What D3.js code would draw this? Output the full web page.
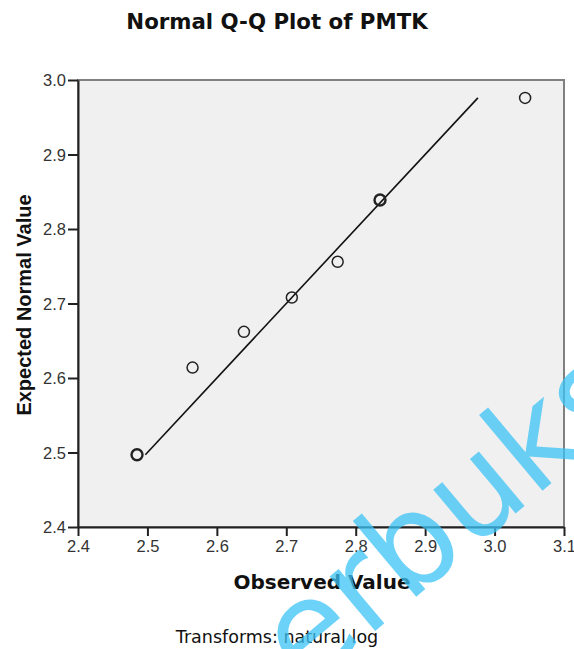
<!DOCTYPE html>
<html>
<head>
<meta charset="utf-8">
<script src="https://cdn.jsdelivr.net/npm/d3@7"></script>
<style>
  body { margin: 0; background: #fff; }
  svg { display: block; }
</style>
</head>
<body>
<svg width="574" height="649"></svg>
<script>
// values
const observed = [2.485, 2.565, 2.639, 2.708, 2.774, 2.835, 3.044];
const expected = [2.497, 2.614, 2.662, 2.708, 2.756, 2.839, 2.976];
const refLine = [2.497, 2.976];
const xTicks = [2.4, 2.5, 2.6, 2.7, 2.8, 2.9, 3.0, 3.1];
const yTicks = [2.4, 2.5, 2.6, 2.7, 2.8, 2.9, 3.0];

const svg = d3.select("svg");
const plotLeft = 78, plotRight = 564, plotTop = 80, plotBottom = 527;

const x = d3.scaleLinear().domain([2.4, 3.1]).range([plotLeft, plotRight]);
const y = d3.scaleLinear().domain([2.4, 3.0]).range([plotBottom, plotTop]);

// plot background + frame
svg.append("rect")
    .attr("x", plotLeft).attr("y", plotTop)
    .attr("width", plotRight - plotLeft).attr("height", plotBottom - plotTop)
    .attr("fill", "#f0f0f0")
    .attr("stroke", "#808080").attr("stroke-width", 2);

const xAxis = svg.append("g")
    .attr("transform", `translate(0, ${plotBottom})`)
    .call(d3.axisBottom(x).tickValues(xTicks).tickFormat(d3.format(".1f")).tickSize(9).tickSizeOuter(0));

const yAxis = svg.append("g")
    .attr("transform", `translate(${plotLeft}, 0)`)
    .call(d3.axisLeft(y).tickValues(yTicks).tickFormat(d3.format(".1f")).tickSize(10).tickSizeOuter(0));

[xAxis, yAxis].forEach(a => {
    a.select(".domain").attr("stroke", "#222").attr("stroke-width", 2);
    a.selectAll(".tick line").attr("stroke", "#222").attr("stroke-width", 2);
    a.selectAll(".tick text")
        .attr("fill", "#333")
        .style("font-family", "'Liberation Sans', Arial, sans-serif")
        .style("font-size", "16.5px");
});
xAxis.selectAll(".tick text").attr("y", 13).attr("dy", "0.72em");
yAxis.selectAll(".tick text").attr("x", -12).attr("dy", "0.36em");

// reference line
svg.append("line")
    .attr("x1", x(refLine[0])).attr("y1", y(refLine[0]))
    .attr("x2", x(refLine[1])).attr("y2", y(refLine[1]))
    .attr("stroke", "#111").attr("stroke-width", 1.6);

// points
svg.selectAll("circle.pt")
    .data(observed)
    .enter()
    .append("circle")
    .attr("class", "pt")
    .attr("cx", d => x(d))
    .attr("cy", (d, i) => y(expected[i]))
    .attr("r", 5.5)
    .attr("fill", "none")
    .attr("stroke", "#222")
    .attr("stroke-width", (d, i) => (i === 0 || i === 5) ? 2.4 : 1.5);

// titles
svg.append("text")
    .attr("x", 277).attr("y", 29)
    .attr("text-anchor", "middle")
    .style("font-family", "'DejaVu Sans', Verdana, sans-serif")
    .style("font-weight", "bold")
    .style("font-size", "21.3px")
    .attr("fill", "#111")
    .text("Normal Q-Q Plot of PMTK");

svg.append("text")
    .attr("x", 322).attr("y", 589)
    .attr("text-anchor", "middle")
    .style("font-family", "'DejaVu Sans', Verdana, sans-serif")
    .style("font-weight", "bold")
    .style("font-size", "20px")
    .attr("fill", "#111")
    .text("Observed Value");

svg.append("text")
    .attr("transform", "translate(31, 305) rotate(-90)")
    .attr("text-anchor", "middle")
    .style("font-family", "'Liberation Sans', Arial, sans-serif")
    .style("font-weight", "bold")
    .style("font-size", "20px")
    .attr("fill", "#111")
    .text("Expected Normal Value");

svg.append("text")
    .attr("x", 277).attr("y", 643)
    .attr("text-anchor", "middle")
    .style("font-family", "'DejaVu Sans', Verdana, sans-serif")
    .style("font-size", "17.5px")
    .attr("fill", "#111")
    .text("Transforms: natural log");

// watermark
svg.append("text")
    .attr("transform", "translate(305, 690) rotate(-40)")
    .style("font-family", "'DejaVu Sans', sans-serif")
    .style("font-size", "130px")
    .attr("fill", "#3cc3f5")
    .attr("fill-opacity", 0.75)
    .text("erbuks");
</script>
</body>
</html>
